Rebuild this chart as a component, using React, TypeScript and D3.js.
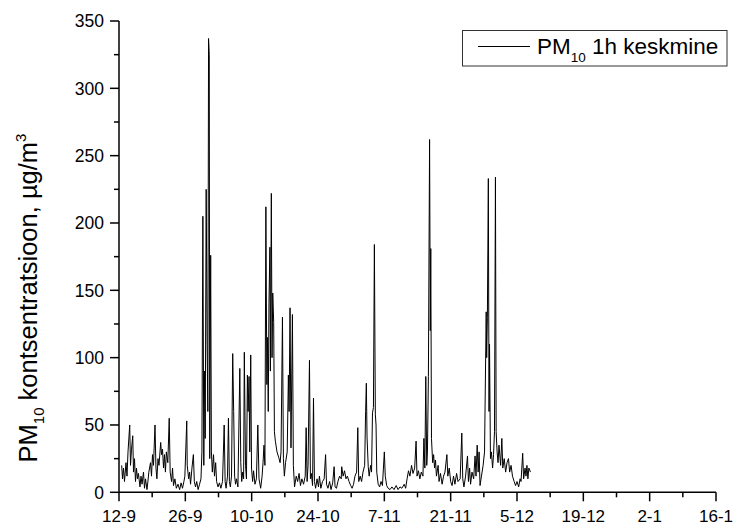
import React from 'react';
import * as d3 from 'd3';

// Start of the time axis: 12 September
const startDate = new Date(Date.UTC(2005, 8, 12));

const xTickDays = [0, 14, 28, 42, 56, 70, 84, 98, 112, 126];
const xTickLabels = ['12-9', '26-9', '10-10', '24-10', '7-11', '21-11', '5-12', '19-12', '2-1', '16-1'];
const yTickValues = [0, 50, 100, 150, 200, 250, 300, 350];

// [days since 12-9, PM10 µg/m3]
const septemberSamples: [number, number][] = [
  [0.57, 20], [0.74, 10], [0.95, 18], [1.16, 8], [1.48, 22], [1.69, 12], [1.9, 30], [2.26, 50], [2.43, 20],
  [2.64, 32], [2.9, 42], [3.06, 15], [3.27, 25], [3.48, 8], [3.69, 18], [3.9, 10], [4.1, 14], [4.43, 4],
  [4.64, 12], [4.86, 6], [5.17, 15], [5.38, 3], [5.6, 10], [5.9, 2], [6.1, 8], [6.3, 15], [6.65, 22],
  [6.86, 12], [7.07, 28], [7.28, 20], [7.6, 50], [7.8, 18], [8.0, 10], [8.23, 25], [8.44, 20], [8.8, 37],
  [8.97, 28], [9.18, 32], [9.4, 18], [9.6, 28], [9.8, 15], [10.0, 30], [10.3, 22], [10.6, 55], [10.8, 15],
  [11.1, 8], [11.3, 18], [11.5, 5], [11.8, 10], [12.1, 3], [12.45, 6], [12.8, 2], [13.1, 7], [13.4, 3],
  [13.7, 8], [13.9, 12], [14.3, 53], [14.4, 20], [14.7, 10], [14.9, 15], [15.1, 6], [15.4, 18], [15.7, 28],
  [15.9, 8], [16.15, 4], [16.4, 8], [16.7, 2], [17.0, 6], [17.3, 10], [17.5, 30], [17.7, 205], [17.9, 20],
  [18.05, 90], [18.2, 40], [18.4, 225], [18.6, 110], [18.75, 60], [18.9, 337],
];

const octoberSamples: [number, number][] = [
  [19.05, 325], [19.15, 25], [19.35, 176], [19.5, 30], [19.7, 15], [19.95, 28], [20.15, 12], [20.4, 22],
  [20.6, 8], [20.9, 4], [21.2, 7], [21.5, 3], [21.85, 8], [22.2, 50], [22.4, 8], [22.6, 3], [22.9, 12],
  [23.1, 55], [23.3, 8], [23.5, 4], [23.75, 12], [24.0, 103], [24.2, 60], [24.4, 12], [24.6, 6], [24.8, 10],
  [25.1, 4], [25.5, 92], [25.7, 22], [25.9, 8], [26.1, 15], [26.3, 10], [26.45, 104], [26.7, 20], [26.9, 10],
  [27.1, 87], [27.25, 60], [27.45, 86], [27.6, 30], [27.8, 102], [27.97, 18], [28.2, 8], [28.4, 16],
  [28.7, 6], [29.0, 10], [29.3, 50], [29.55, 10], [29.9, 3], [30.2, 12], [30.4, 22], [30.6, 35], [30.8, 20],
  [31.0, 212], [31.2, 80], [31.35, 115], [31.5, 60], [31.65, 140], [31.85, 182], [31.95, 90], [32.15, 222],
  [32.3, 100], [32.45, 148], [32.65, 126], [32.8, 45], [33.0, 38], [33.35, 30], [33.7, 26], [34.0, 22],
  [34.2, 30], [34.5, 130], [34.7, 25], [34.9, 12], [35.15, 22], [35.5, 30], [35.75, 87], [35.9, 60],
  [36.1, 137], [36.3, 33], [36.6, 132], [36.8, 20], [37.05, 4], [37.4, 12], [37.7, 8], [38.0, 14], [38.3, 5],
  [38.6, 10], [38.95, 6], [39.3, 12], [39.5, 48], [39.7, 8], [39.9, 20], [40.2, 98], [40.4, 10], [40.6, 14],
  [40.85, 5], [41.05, 70], [41.25, 8], [41.5, 3], [41.8, 10], [42.1, 4], [42.3, 12], [42.6, 3], [42.95, 8],
  [43.3, 10], [43.6, 28], [43.8, 6], [44.1, 3], [44.45, 8], [44.75, 2], [45.1, 7], [45.4, 19], [45.6, 4],
  [45.9, 3], [46.2, 8], [46.55, 12], [46.9, 10], [47.0, 19], [47.3, 12], [47.6, 16], [47.9, 10], [48.2, 12],
  [48.55, 8], [48.9, 5], [49.2, 3], [49.5, 6], [49.8, 12],
];

const novemberSamples: [number, number][] = [
  [50.15, 15], [50.4, 48], [50.6, 8], [50.9, 12], [51.2, 8], [51.5, 15], [51.85, 20], [52.05, 60], [52.2, 81],
  [52.35, 41], [52.6, 19], [52.8, 12], [53.1, 20], [53.3, 15], [53.5, 59], [53.7, 63], [53.9, 184], [54.1, 58],
  [54.25, 50], [54.4, 15], [54.7, 6], [55.0, 4], [55.3, 8], [55.6, 5], [56.0, 30], [56.2, 12], [56.5, 5],
  [56.8, 3], [57.2, 2], [57.6, 4], [58.05, 2], [58.5, 5], [58.9, 2], [59.3, 4], [59.7, 3], [60.2, 6],
  [60.5, 3], [60.8, 10], [61.1, 16], [61.4, 12], [61.75, 20], [62.05, 14], [62.4, 18], [62.7, 38], [62.9, 12],
  [63.2, 16], [63.5, 10], [63.8, 15], [64.15, 12], [64.35, 40], [64.55, 18], [64.75, 86], [64.95, 20],
  [65.1, 30], [65.3, 86], [65.55, 262], [65.7, 120], [65.8, 181], [65.95, 40], [66.2, 22], [66.4, 28],
  [66.6, 18], [66.8, 24], [67.0, 12], [67.35, 20], [67.55, 8], [67.85, 14], [68.2, 6], [68.5, 12], [68.8, 15],
  [69.2, 28], [69.4, 12], [69.7, 18], [70.0, 8], [70.3, 5], [70.6, 12], [70.9, 6], [71.25, 14], [71.55, 8],
  [72.0, 10], [72.35, 44], [72.55, 10], [72.8, 4], [73.15, 12], [73.55, 27], [73.75, 8], [74.0, 18], [74.2, 6],
  [74.5, 15], [74.85, 10], [75.15, 27], [75.35, 12], [75.6, 35], [75.8, 15], [76.0, 30], [76.2, 5], [76.5, 12],
  [76.85, 20], [77.15, 30], [77.5, 134], [77.6, 100], [77.75, 130], [77.95, 233], [78.1, 60], [78.2, 110],
  [78.4, 25], [78.6, 30], [78.85, 18], [79.05, 28], [79.25, 45], [79.45, 234], [79.6, 45], [79.8, 30],
];

const decemberSamples: [number, number][] = [
  [80.0, 22], [80.2, 35], [80.55, 20], [80.8, 40], [81.0, 18], [81.3, 25], [81.6, 15], [81.9, 22], [82.2, 25],
  [82.45, 15], [82.75, 20], [83.05, 12], [83.4, 8], [83.7, 5], [84.0, 8], [84.35, 4], [84.65, 10], [84.85, 8],
  [85.2, 29], [85.4, 10], [85.7, 18], [85.9, 12], [86.1, 20], [86.3, 10], [86.5, 18], [86.85, 15],
];

const DAY = 864e5;
const toDate = (d: number) => new Date(startDate.getTime() + d * DAY);

export default function App() {
  const W = 735;
  const H = 527;
  const x = d3.scaleUtc().domain([toDate(0), toDate(126)]).range([119, 716]);
  const y = d3.scaleLinear().domain([0, 350]).range([492.3, 21]);

  const all = [...septemberSamples, ...octoberSamples, ...novemberSamples, ...decemberSamples];
  const line = d3
    .line<[number, number]>()
    .x((d) => x(toDate(d[0])))
    .y((d) => y(d[1]));

  const minorX = d3.range(7, 126, 14);
  const minorY = d3.range(25, 350, 50);
  const font = 'Arial, "Liberation Sans", sans-serif';
  const x0 = x.range()[0];
  const yBase = y(0);

  return (
    <svg width={W} height={H} style={{ position: 'absolute', left: 0, top: 0, background: '#fff' }} fontFamily={font}>
      {/* data */}
      <path d={line(all) || ''} fill="none" stroke="#000" strokeWidth={1} strokeLinejoin="miter" />

      {/* y axis */}
      <line x1={x0} x2={x0} y1={y(350)} y2={yBase} stroke="#000" strokeWidth={1.5} />
      {yTickValues.map((v) => (
        <g key={'yt' + v}>
          <line x1={x0 - 9} x2={x0} y1={y(v)} y2={y(v)} stroke="#000" strokeWidth={1.5} />
          <text x={x0 - 15} y={y(v)} dy="0.36em" textAnchor="end" fontSize={17.5} fill="#000">
            {v}
          </text>
        </g>
      ))}
      {minorY.map((v) => (
        <line key={'ym' + v} x1={x0 - 5} x2={x0} y1={y(v)} y2={y(v)} stroke="#000" strokeWidth={1.5} />
      ))}

      {/* x axis */}
      <line x1={x0} x2={x.range()[1]} y1={yBase} y2={yBase} stroke="#000" strokeWidth={1.5} />
      {xTickDays.map((d, i) => (
        <g key={'xt' + d}>
          <line x1={x(toDate(d))} x2={x(toDate(d))} y1={yBase} y2={yBase + 9} stroke="#000" strokeWidth={1.5} />
          <text x={x(toDate(d))} y={522} textAnchor="middle" fontSize={17} fill="#000">
            {xTickLabels[i]}
          </text>
        </g>
      ))}
      {minorX.map((d) => (
        <line key={'xm' + d} x1={x(toDate(d))} x2={x(toDate(d))} y1={yBase} y2={yBase + 5} stroke="#000" strokeWidth={1.5} />
      ))}

      {/* y title */}
      <text transform="translate(37,298) rotate(-90)" textAnchor="middle" fontSize={25.5} fill="#000">
        <tspan>PM</tspan>
        <tspan fontSize={15} dy={7}>10</tspan>
        <tspan dy={-7}> kontsentratsioon, µg/m</tspan>
        <tspan fontSize={15} dy={-11}>3</tspan>
      </text>

      {/* legend */}
      <rect x={462.5} y={30.5} width={264.5} height={35.5} fill="#fff" stroke="#333" strokeWidth={1} />
      <line x1={478} x2={530} y1={46.5} y2={46.5} stroke="#000" strokeWidth={1} />
      <text x={537} y={54} fontSize={22.5} fill="#000">
        <tspan>PM</tspan>
        <tspan fontSize={13.5} dy={8}>10</tspan>
        <tspan dy={-8}> 1h keskmine</tspan>
      </text>
    </svg>
  );
}
